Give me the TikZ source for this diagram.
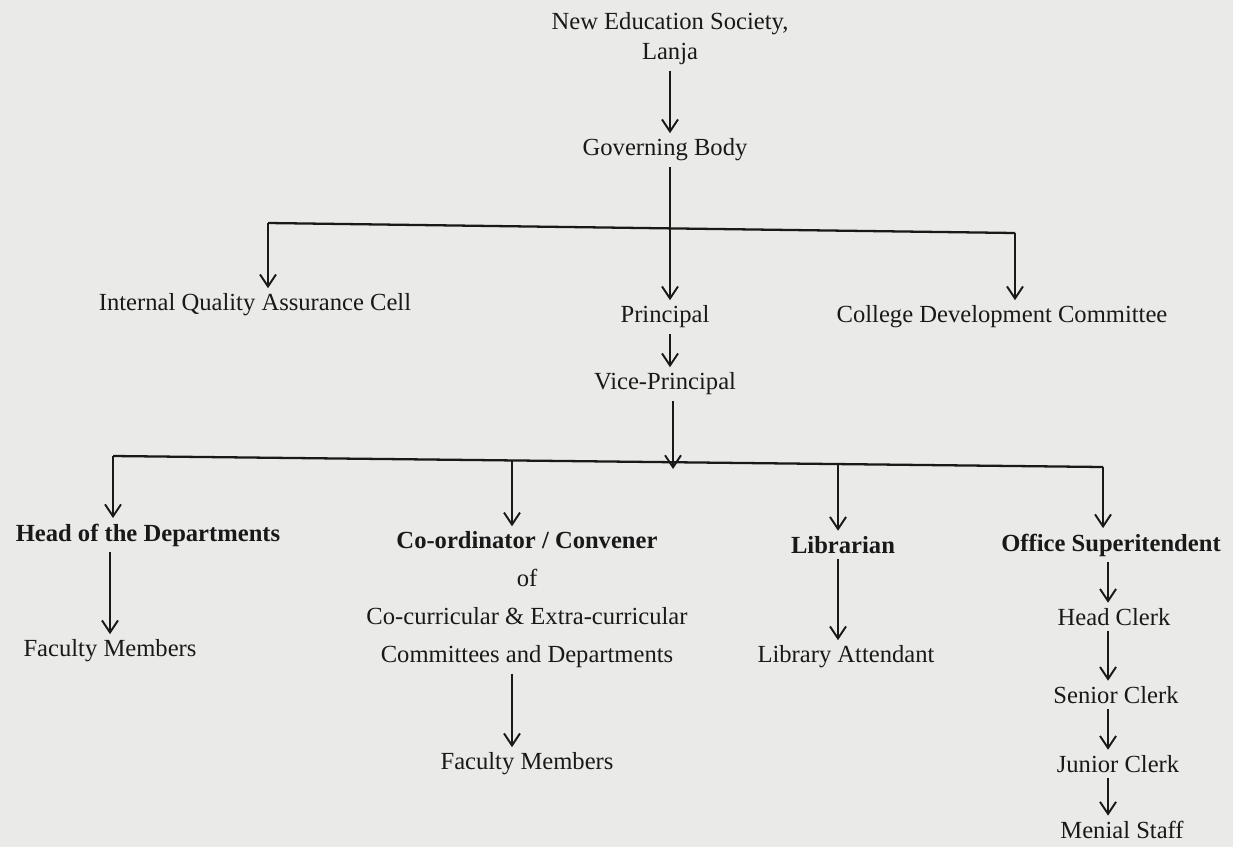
\documentclass[tikz,border=0pt]{standalone}
\usepackage{fontspec}
\setmainfont{Liberation Serif}
\usepackage{xcolor}
\usetikzlibrary{arrows.meta,positioning,calc}
\definecolor{paper}{RGB}{234,234,232}
\definecolor{ink}{RGB}{25,25,25}

\begin{document}
\begin{tikzpicture}[
    font=\fontsize{14}{17}\selectfont,
    lbl/.style={inner sep=3pt, text=ink, align=center},
    head/.style={lbl, font=\fontsize{14}{17}\selectfont\bfseries},
    bus/.style={draw=ink, line width=1.3pt},
    arrow/.style={draw=ink, line width=1.1pt, -{Straight Barb[length=2.4mm, width=3.2mm, line width=1.1pt]}}
]
    \fill[paper] (0,0) rectangle (24.66,-16.94);
    \useasboundingbox (0,0) rectangle (24.66,-16.94);

    % --- Top: Society and Governing Body ---
    \node[lbl] (nes) at (13.4, -0.78) {New Education Society,\\ Lanja};
    \node[lbl] (gov) at (13.3, -3.0) {Governing Body};

    \draw[arrow] (nes.south -| 13.4,0) -- (gov.north -| 13.4,0);

    % --- Level 2 ---
    \node[lbl] (iqac) at (5.1, -6.1) {Internal Quality Assurance Cell};
    \node[lbl] (prin) at (13.3, -6.34) {Principal};
    \node[lbl] (cdc) at (20.04, -6.34) {College Development Committee};
    \node[lbl] (vp) at (13.3, -7.68) {Vice-Principal};

    \coordinate (b1l) at (5.36, -4.46);
    \coordinate (b1m) at (13.4, -4.6);
    \coordinate (b1r) at (20.3, -4.66);
    \draw[bus] (b1l) -- (b1r);
    \draw[arrow] (gov.south -| b1m) -- (prin.north -| b1m);
    \draw[arrow] (b1l) -- (b1l |- iqac.north);
    \draw[arrow] (b1r) -- (b1r |- cdc.north);
    \draw[arrow] (prin.south -| b1m) -- (vp.north -| b1m);

    % --- Level 3 ---
    \node[head] (hod) at (2.96, -10.7) {Head of the Departments};
    \node[lbl, font=\fontsize{14}{21.6}\selectfont] (coord) at (10.54, -12.0)
        {\textbf{Co-ordinator / Convener}\\ of\\ Co-curricular \& Extra-curricular\\ Committees and Departments};
    \node[head] (lib) at (16.86, -10.9) {Librarian};
    \node[head] (os) at (22.22, -10.9) {Office Superitendent};

    \coordinate (b2a) at (2.26, -9.12);
    \coordinate (b2b) at (10.24, -9.2);
    \coordinate (b2c) at (16.76, -9.28);
    \coordinate (b2d) at (22.06, -9.34);
    \coordinate (b2m) at (13.46, -9.25);
    \draw[bus] (b2a) -- (b2d);
    \draw[arrow] (vp.south -| b2m) -- (b2m |- 0,-9.38);
    \draw[arrow] (b2a) -- (b2a |- hod.north);
    \draw[arrow] (b2b) -- (b2b |- coord.north);
    \draw[arrow] (b2c) -- (b2c |- lib.north);
    \draw[arrow] (b2d) -- (b2d |- os.north);

    % --- Bottom rows ---
    \node[lbl] (fm1) at (2.2, -13.02) {Faculty Members};
    \node[lbl] (fm2) at (10.54, -15.28) {Faculty Members};
    \node[lbl] (libat) at (16.92, -13.14) {Library Attendant};
    \node[lbl] (hc) at (22.28, -12.34) {Head Clerk};
    \node[lbl] (sc) at (22.32, -13.9) {Senior Clerk};
    \node[lbl] (jc) at (22.36, -15.28) {Junior Clerk};
    \node[lbl] (ms) at (22.44, -16.6) {Menial Staff};

    \draw[arrow] (hod.south -| fm1) -- (fm1.north);
    \draw[arrow] (coord.south -| b2b) -- (fm2.north -| b2b);
    \draw[arrow] (lib.south -| b2c) -- (libat.north -| b2c);
    \draw[arrow] (os.south -| 22.16,0) -- (hc.north -| 22.16,0);
    \draw[arrow] (hc.south -| 22.16,0) -- (sc.north -| 22.16,0);
    \draw[arrow] (sc.south -| 22.16,0) -- (jc.north -| 22.16,0);
    \draw[arrow] (jc.south -| 22.16,0) -- (ms.north -| 22.16,0);

\end{tikzpicture}
\end{document}
